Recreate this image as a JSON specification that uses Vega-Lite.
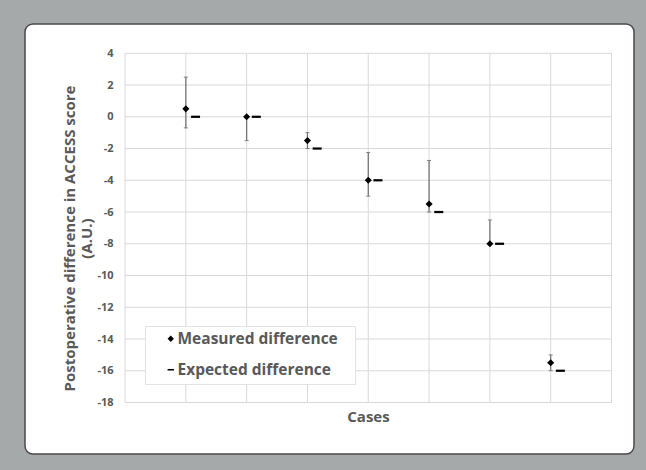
{
  "$schema": "https://vega.github.io/schema/vega-lite/v6.json",
  "width": 609,
  "height": 430,
  "autosize": {"type": "none"},
  "padding": {"left": 25, "top": 24, "right": 12, "bottom": 16},
  "background": "#a6a9a9",
  "datasets": {
    "cases": [
      {"case": 1, "measured": 0.5, "expected": 0, "low": -0.7, "high": 2.5},
      {"case": 2, "measured": 0, "expected": 0, "low": -1.5, "high": 0},
      {"case": 3, "measured": -1.5, "expected": -2, "low": -2, "high": -1},
      {"case": 4, "measured": -4, "expected": -4, "low": -5, "high": -2.25},
      {"case": 5, "measured": -5.5, "expected": -6, "low": -6, "high": -2.75},
      {"case": 6, "measured": -8, "expected": -8, "low": -8, "high": -6.5},
      {"case": 7, "measured": -15.5, "expected": -16, "low": -16, "high": -15}
    ],
    "gridY": [
      {"v": -18}, {"v": -16}, {"v": -14}, {"v": -12}, {"v": -10}, {"v": -8},
      {"v": -6}, {"v": -4}, {"v": -2}, {"v": 0}, {"v": 2}, {"v": 4}
    ],
    "gridX": [
      {"v": 0}, {"v": 1}, {"v": 2}, {"v": 3}, {"v": 4}, {"v": 5}, {"v": 6}, {"v": 7}, {"v": 8}
    ]
  },
  "layer": [
    {
      "data": {"name": "gridY"},
      "mark": {"type": "rule", "color": "#d9d9d9", "strokeWidth": 1},
      "encoding": {
        "y": {
          "field": "v", "type": "quantitative",
          "scale": {"domain": [-21.245, 5.846], "nice": false, "zero": false},
          "axis": {
            "offset": -100,
            "domain": false, "ticks": false, "grid": false,
            "values": [-18, -16, -14, -12, -10, -8, -6, -4, -2, 0, 2, 4],
            "tickCount": 30,
            "labelExpr": "'' + datum.value",
            "labelOverlap": false,
            "labelPadding": 12,
            "labelFont": "Open Sans", "labelFontWeight": "bold", "labelFontSize": 11, "labelColor": "#595959",
            "title": ["Postoperative difference in ACCESS score", "(A.U.)"],
            "titleFont": "Open Sans", "titleFontWeight": "bold", "titleFontSize": 15, "titleColor": "#595959",
            "titleLineHeight": 17,
            "titleAngle": -90,
            "titleAlign": "center",
            "titleBaseline": "top",
            "titleX": -63,
            "titleY": 214
          }
        },
        "x": {
          "datum": 0, "type": "quantitative",
          "scale": {"domain": [-1.645, 8.37], "nice": false, "zero": false},
          "axis": {
            "offset": -51.5,
            "domain": false, "ticks": false, "labels": false, "grid": false,
            "title": "Cases",
            "titleFont": "Open Sans", "titleFontWeight": "bold", "titleFontSize": 15, "titleColor": "#595959",
            "titleX": 343, "titleY": 14, "titleBaseline": "middle", "titleAlign": "center"
          }
        },
        "x2": {"datum": 8}
      }
    },
    {
      "data": {"name": "gridX"},
      "mark": {"type": "rule", "color": "#d9d9d9", "strokeWidth": 1},
      "encoding": {
        "x": {"field": "v", "type": "quantitative"},
        "y": {"datum": -18, "type": "quantitative"},
        "y2": {"datum": 4}
      }
    },
    {
      "data": {"name": "cases"},
      "mark": {"type": "rule", "color": "#6e6e6e", "strokeWidth": 1.2},
      "encoding": {
        "x": {"field": "case", "type": "quantitative"},
        "y": {"field": "low", "type": "quantitative"},
        "y2": {"field": "high"}
      }
    },
    {
      "data": {"name": "cases"},
      "mark": {"type": "point", "shape": "M-1,0H1", "filled": false, "stroke": "#808080", "strokeWidth": 1, "size": 16, "opacity": 1},
      "encoding": {
        "x": {"field": "case", "type": "quantitative"},
        "y": {"field": "low", "type": "quantitative"}
      }
    },
    {
      "data": {"name": "cases"},
      "mark": {"type": "point", "shape": "M-1,0H1", "filled": false, "stroke": "#808080", "strokeWidth": 1, "size": 16, "opacity": 1},
      "encoding": {
        "x": {"field": "case", "type": "quantitative"},
        "y": {"field": "high", "type": "quantitative"}
      }
    },
    {
      "data": {"name": "cases"},
      "mark": {"type": "point", "filled": true, "color": "#000000", "size": 81, "opacity": 1, "xOffset": 9.7},
      "encoding": {
        "x": {"field": "case", "type": "quantitative"},
        "y": {"field": "expected", "type": "quantitative"},
        "shape": {
          "datum": "Expected difference",
          "scale": {"domain": ["Measured difference", "Expected difference"], "range": ["diamond", "M-1,-0.25H1V0.25H-1Z"]}
        }
      }
    },
    {
      "data": {"name": "cases"},
      "mark": {"type": "point", "filled": true, "color": "#000000", "size": 50, "opacity": 1},
      "encoding": {
        "x": {"field": "case", "type": "quantitative"},
        "y": {"field": "measured", "type": "quantitative"},
        "shape": {
          "datum": "Measured difference",
          "scale": {"domain": ["Measured difference", "Expected difference"], "range": ["diamond", "M-1,-0.25H1V0.25H-1Z"]},
          "legend": {
            "title": null,
            "orient": "none",
            "legendX": 120,
            "legendY": 302,
            "fillColor": "#ffffff",
            "strokeColor": "#e3e3e3",
            "padding": 5,
            "symbolOffset": 13,
            "symbolSize": 40,
            "symbolFillColor": "#000000",
            "symbolStrokeWidth": 0,
            "labelOffset": -1,
            "rowPadding": 14,
            "labelExpr": "datum.label + '\u2800'",
            "labelFont": "Open Sans", "labelFontWeight": "bold", "labelFontSize": 15.5, "labelColor": "#595959",
            "labelLimit": 300
          }
        }
      }
    }
  ],
  "config": {
    "view": {"fill": "#ffffff", "stroke": "#4a4a4a", "strokeWidth": 1.5, "cornerRadius": 8},
    "axis": {"labelOverlap": false}
  }
}
